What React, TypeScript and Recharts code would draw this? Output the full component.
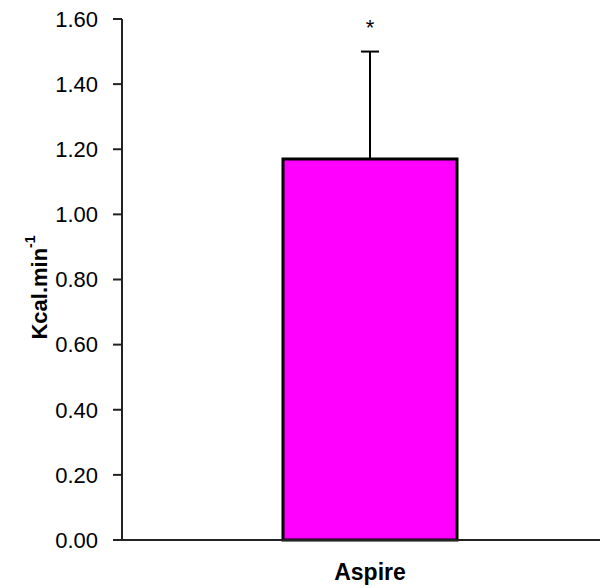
import { BarChart, Bar, XAxis, YAxis, ErrorBar, ReferenceDot } from 'recharts'

const categories = ['Aspire']
const energy = [1.17]
const errorUp = [0.33]
const marks = ['*']
const yTicks = [0, 0.2, 0.4, 0.6, 0.8, 1.0, 1.2, 1.4, 1.6]

const data = categories.map((name, i) => ({
    name,
    value: energy[i],
    err: [0, errorUp[i]],
    top: energy[i] + errorUp[i],
}))

// rotated y label with a superscript -1
function YLabel(props: any) {
    const vb = props.viewBox || {}
    const cx = 39
    const cy = vb.y + vb.height / 2 + 8
    return (
        <text
            x={cx}
            y={cy}
            transform={`rotate(-90 ${cx} ${cy})`}
            textAnchor="middle"
            dominantBaseline="central"
            fontFamily="Liberation Sans, Arial, sans-serif"
            fontWeight="bold"
            fontSize={22}
            fill="#000"
        >
            <tspan>Kcal.min</tspan>
            <tspan fontSize={14} dy={-9}>-1</tspan>
        </text>
    )
}

export default function App() {
    const font = 'Liberation Sans, Arial, sans-serif'
    return (
        <div style={{ width: 600, height: 580, overflow: 'hidden', background: '#fff' }}>
            <div style={{ position: 'relative', left: -8, top: -8, width: 608, height: 588 }}>
                <BarChart
                    width={618}
                    height={588}
                    data={data}
                    margin={{ top: 19, right: 0, left: 0, bottom: 0 }}
                >
                    <XAxis
                        dataKey="name"
                        height={48}
                        tickLine={false}
                        tickSize={0}
                        tickMargin={24}
                        axisLine={{ stroke: '#222', strokeWidth: 2 }}
                        tick={{ fill: '#000', fontSize: 23, fontWeight: 'bold', fontFamily: font }}
                    />
                    <YAxis
                        width={122}
                        domain={[0, 1.6]}
                        ticks={yTicks}
                        interval={0}
                        tickFormatter={(v: number) => v.toFixed(2)}
                        tickSize={9}
                        tickMargin={15}
                        axisLine={{ stroke: '#222', strokeWidth: 2 }}
                        tickLine={{ stroke: '#222', strokeWidth: 2 }}
                        tick={{ fill: '#000', fontSize: 22, fontFamily: font }}
                        label={<YLabel />}
                    />
                    <Bar
                        dataKey="value"
                        fill="#FF00FF"
                        stroke="#000"
                        strokeWidth={3}
                        barSize={174}
                        isAnimationActive={false}
                    >
                        <ErrorBar dataKey="err" direction="y" width={9} stroke="#000" strokeWidth={2} />
                    </Bar>
                    {data.map((d, i) => (
                        <ReferenceDot
                            key={d.name}
                            x={d.name}
                            y={d.top}
                            r={0}
                            stroke="none"
                            label={{ value: marks[i], position: 'top', offset: 17, fontSize: 22, fill: '#000', fontFamily: font }}
                        />
                    ))}
                </BarChart>
            </div>
        </div>
    )
}
